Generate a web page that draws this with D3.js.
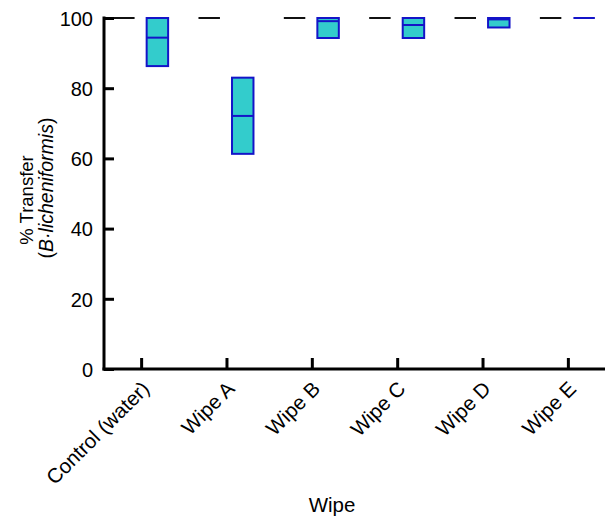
<!DOCTYPE html>
<html><head><meta charset="utf-8">
<script src="https://cdn.jsdelivr.net/npm/d3@7"></script>
<style>
html,body{margin:0;padding:0;background:#fff;}
svg{display:block;font-family:"Liberation Sans",Arial,Helvetica,sans-serif;}
</style></head>
<body>
<svg id="chart" width="605" height="519"></svg>
<script>
const categories = ["Control (water)", "Wipe A", "Wipe B", "Wipe C", "Wipe D", "Wipe E"];
const groups = ["reference", "wipe"];
// reference series (all at 100 %)
const refMin = [100, 100, 100, 100, 100, 100];
const refMedian = [100, 100, 100, 100, 100, 100];
const refMax = [100, 100, 100, 100, 100, 100];
// wipe series
const wipeMin = [86.3, 61.3, 94.3, 94.3, 97.3, 100];
const wipeMedian = [94.4, 72.1, 99.1, 98.0, 99.6, 100];
const wipeMax = [100, 83.0, 100, 100, 100, 100];
const yTicks = [0, 20, 40, 60, 80, 100];

const svg = d3.select("#chart");
const mLeft = 104, mRight = 605, mTop = 18, mBottom = 369;
const FONT = "Liberation Sans, Arial, sans-serif";

const x = d3.scalePoint().domain(categories).range([mLeft, mRight]).padding(0.435);
const xi = d3.scaleBand().domain(groups).range([-28, 27]).paddingInner(0.36);
const y = d3.scaleLinear().domain([0, 100]).range([mBottom, mTop]);

const series = [
  {key: "reference", min: refMin, med: refMedian, max: refMax, fill: "none", stroke: "#111"},
  {key: "wipe", min: wipeMin, med: wipeMedian, max: wipeMax, fill: "#33CCCC", stroke: "#1414C8"}
];

// boxes
series.forEach(s => {
  const g = svg.append("g");
  categories.forEach((c, i) => {
    const x0 = x(c) + xi(s.key), w = xi.bandwidth();
    const y1 = y(s.max[i]), y0 = y(s.min[i]);
    if (y0 - y1 < 0.5) {
      g.append("line").attr("x1", x0).attr("x2", x0 + w).attr("y1", y1).attr("y2", y1)
        .attr("stroke", s.stroke).attr("stroke-width", 2);
    } else {
      g.append("rect").attr("x", x0).attr("y", y1).attr("width", w).attr("height", y0 - y1)
        .attr("fill", s.fill).attr("stroke", s.stroke).attr("stroke-width", 2);
      g.append("line").attr("x1", x0).attr("x2", x0 + w)
        .attr("y1", y(s.med[i])).attr("y2", y(s.med[i]))
        .attr("stroke", s.stroke).attr("stroke-width", 2);
    }
  });
});

// y axis
const yAxis = svg.append("g").attr("transform", `translate(${mLeft},0)`)
  .call(d3.axisLeft(y).tickValues(yTicks).tickSize(-10).tickPadding(11).tickSizeOuter(0));
yAxis.select(".domain").attr("stroke", "#000").attr("stroke-width", 3)
  .attr("d", `M0,${mBottom + 1.5}V${mTop - 1.5}`);
yAxis.selectAll(".tick line").attr("stroke", "#000").attr("stroke-width", 3);
yAxis.selectAll(".tick text").attr("font-size", 20).attr("fill", "#000")
  .attr("font-family", FONT).attr("dy", "0.36em");

// x axis
const xAxis = svg.append("g").attr("transform", `translate(0,${mBottom})`)
  .call(d3.axisBottom(x).tickSize(-11).tickSizeOuter(0));
xAxis.select(".domain").attr("stroke", "#000").attr("stroke-width", 3)
  .attr("d", `M${mLeft - 1.5},0H${mRight}`);
xAxis.selectAll(".tick line").attr("stroke", "#000").attr("stroke-width", 3);
xAxis.selectAll(".tick text")
  .attr("font-size", 20.5).attr("fill", "#000")
  .attr("font-family", FONT)
  .attr("text-anchor", "end")
  .attr("transform", "translate(9,21) rotate(-45)")
  .attr("x", 0).attr("y", 0).attr("dy", 0);

// axis titles
svg.append("text").attr("transform", `translate(33,200) rotate(-90)`)
  .attr("text-anchor", "middle").attr("font-size", 18.5).attr("fill", "#000")
  .attr("font-family", FONT).text("% Transfer");
const t2 = svg.append("text").attr("transform", `translate(53,188) rotate(-90)`)
  .attr("text-anchor", "middle").attr("font-size", 19.5).attr("fill", "#000")
  .attr("font-family", FONT);
t2.append("tspan").text("(");
t2.append("tspan").attr("font-style", "italic").text("B·licheniformis");
t2.append("tspan").text(")");

svg.append("text").attr("x", 332).attr("y", 512).attr("text-anchor", "middle")
  .attr("font-size", 20.5).attr("fill", "#000").attr("font-family", FONT).text("Wipe");
</script>
</body></html>
